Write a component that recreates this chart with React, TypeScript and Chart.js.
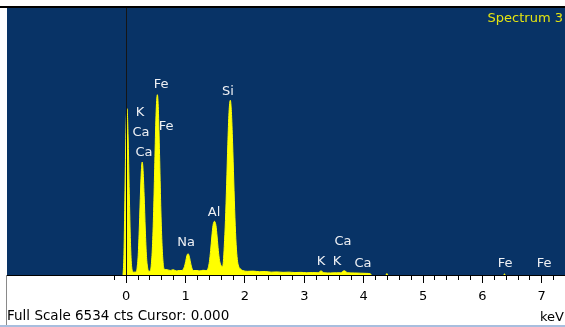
import React, { useEffect, useRef } from "react";
import { Chart, registerables } from "chart.js";

Chart.register(...registerables);

// ---- data; null = no counts shown ----
const energyKeV = [
  -0.05, -0.045, -0.03, -0.01, 0.005, 0.022, 0.04, 0.06, 0.08, 0.1, 0.13, 0.16, 0.18,
  0.19, 0.21, 0.23, 0.25, 0.265, 0.277, 0.29, 0.31, 0.33, 0.35, 0.37, 0.39, 0.41,
  0.43, 0.45, 0.47, 0.49, 0.51, 0.533, 0.55, 0.57, 0.59, 0.61, 0.63, 0.65,
  0.7, 0.75, 0.8, 0.85, 0.9, 0.95,
  0.97, 0.99, 1.01, 1.03, 1.05, 1.07, 1.09, 1.11, 1.14,
  1.2, 1.25, 1.3, 1.35,
  1.37, 1.39, 1.41, 1.43, 1.45, 1.47, 1.495, 1.52, 1.54, 1.56, 1.58, 1.6, 1.615, 1.63,
  1.645, 1.66, 1.68, 1.7, 1.72, 1.74, 1.762, 1.78, 1.8, 1.82, 1.84, 1.86, 1.88, 1.9, 1.93,
  1.97, 2.05, 2.15, 2.25, 2.35, 2.45, 2.55, 2.65, 2.75, 2.85, 2.95, 3.05, 3.15, 3.24,
  3.29, 3.34, 3.45, 3.55, 3.62, 3.68, 3.74, 3.85, 3.95, 4.05, 4.12, 4.14,
  4.2, 4.385, 4.4, 4.415, 4.5, 6.365, 6.38, 6.395,
];
const counts: (number | null)[] = [
  0, 30, 500, 2300, 3600, 4070, 3400, 2000, 800, 200, 70, 70, 90,
  160, 480, 1200, 2080, 2600, 2765, 2620, 1950, 1100, 450, 170, 90, 100,
  240, 690, 1550, 2750, 3900, 4412, 4050, 2950, 1700, 800, 300, 140,
  130, 110, 130, 100, 110, 110,
  140, 210, 330, 470, 521, 460, 320, 190, 110,
  110, 100, 115, 110,
  120, 180, 330, 600, 930, 1210, 1314, 1210, 930, 600, 360, 250, 220, 200,
  330, 700, 1330, 2220, 3200, 3980, 4275, 4000, 3250, 2300, 1400, 750, 380, 220, 150,
  110, 90, 95, 80, 85, 70, 75, 65, 70, 60, 65, 55, 60, 55,
  100, 55, 50, 55, 55, 105, 55, 50, 45, 40, 30, 0,
  null, 0, 35, 0, null, 0, 25, 0,
];

const tickValues = [0, 1, 2, 3, 4, 5, 6, 7];
const peakLabels = ["Fe", "K", "Ca", "Fe", "Ca", "Si", "Al", "Na", "Ca", "K", "K", "Ca", "Fe", "Fe"];
const peakLabelKeV = [0.595, 0.24, 0.258, 0.679, 0.308, 1.723, 1.488, 1.016, 3.66, 3.29, 3.56, 3.997, 6.39, 7.05];
const peakLabelCounts = [4650, 3964, 3475, 3622, 2985, 4478, 1517, 783, 807, 318, 318, 269, 269, 269];

const fullScaleCts = 6534;
const cursorKeV = 0;
const spectrumName = "Spectrum 3";
const unitLabel = "keV";
const xMin = -2;
const xMax = 7.4;
const tickStart = -0.2;

const BLUE = "#083366";
const YELLOW = "#ffff00";
const FONT = "13px 'DejaVu Sans'";
const FOOT_FONT = "13.5px 'DejaVu Sans'";

const decorPlugin = {
  id: "edsDecor",
  beforeDraw(chart: any) {
    const { ctx, chartArea: a, width, height } = chart;
    ctx.save();
    ctx.fillStyle = "#ffffff";
    ctx.fillRect(0, 0, width, height);
    ctx.fillStyle = BLUE;
    ctx.fillRect(a.left, a.top, a.right - a.left, a.bottom - a.top);
    ctx.fillStyle = "#000000";
    ctx.fillRect(0, a.top - 2, width, 2);
    ctx.restore();
  },
  afterDatasetsDraw(chart: any) {
    const { ctx, chartArea: a, width, height } = chart;
    const xs = chart.scales.x;
    const ys = chart.scales.y;
    ctx.save();

    // cursor line
    const cx = Math.round(xs.getPixelForValue(cursorKeV)) + 0.5;
    ctx.strokeStyle = "#151515";
    ctx.lineWidth = 1;
    ctx.beginPath();
    ctx.moveTo(cx, a.top);
    ctx.lineTo(cx, a.bottom);
    ctx.stroke();

    // axis line
    ctx.fillStyle = "#000000";
    ctx.fillRect(a.left, a.bottom, a.right - a.left, 1);

    // ticks every 0.2 keV
    for (let i = Math.round(tickStart * 5); i <= Math.floor(xMax * 5); i++) {
      const v = i / 5;
      const px = Math.round(xs.getPixelForValue(v));
      const major = i % 5 === 0;
      ctx.fillRect(px, a.bottom, 1, major ? 8 : 5);
    }

    // tick labels
    ctx.font = FONT;
    ctx.textBaseline = "middle";
    ctx.textAlign = "center";
    ctx.fillStyle = "#000000";
    tickValues.forEach((v) => {
      ctx.fillText(String(v), xs.getPixelForValue(v) + 0.5, a.bottom + 22);
    });

    // peak labels
    ctx.fillStyle = "#eef0f4";
    peakLabels.forEach((t, i) => {
      ctx.fillText(t, xs.getPixelForValue(peakLabelKeV[i]), ys.getPixelForValue(peakLabelCounts[i]));
    });

    // spectrum name
    ctx.textAlign = "right";
    ctx.fillStyle = "#e4e410";
    ctx.fillText(spectrumName, width - 2, a.top + 11);

    // footer
    ctx.textAlign = "left";
    ctx.fillStyle = "#000000";
    ctx.font = FOOT_FONT;
    ctx.fillText(`Full Scale ${fullScaleCts} cts Cursor: ${cursorKeV.toFixed(3)}`, 7, a.bottom + 41);
    ctx.font = FONT;
    ctx.fillText(unitLabel, 540, a.bottom + 43);

    // frame lines
    ctx.fillStyle = "#8a8a8a";
    ctx.fillRect(6, a.bottom, 1, height - a.bottom);
    ctx.fillStyle = "#a8bede";
    ctx.fillRect(0, height - 2, width, 2);

    ctx.restore();
  },
};

export default function App() {
  const ref = useRef<HTMLCanvasElement | null>(null);

  useEffect(() => {
    if (!ref.current) return;
    const chart = new Chart(ref.current, {
      type: "line",
      data: {
        datasets: [
          {
            data: energyKeV.map((e, i) => ({ x: e, y: counts[i] })),
            borderColor: YELLOW,
            backgroundColor: YELLOW,
            borderWidth: 1,
            fill: "origin",
            spanGaps: false,
            pointRadius: 0,
            cubicInterpolationMode: "monotone",
          },
        ],
      },
      options: {
        responsive: false,
        animation: false,
        layout: { padding: { left: 7, top: 8, right: 0, bottom: 52 } },
        scales: {
          x: { type: "linear", min: xMin, max: xMax, display: false },
          y: { min: 0, max: fullScaleCts, display: false },
        },
        plugins: { legend: { display: false }, tooltip: { enabled: false } },
      },
      plugins: [decorPlugin],
    } as any);
    return () => chart.destroy();
  }, []);

  return (
    <div style={{ position: "absolute", left: 0, top: 0, width: 565, height: 327 }}>
      <canvas ref={ref} width={565} height={327} />
    </div>
  );
}
